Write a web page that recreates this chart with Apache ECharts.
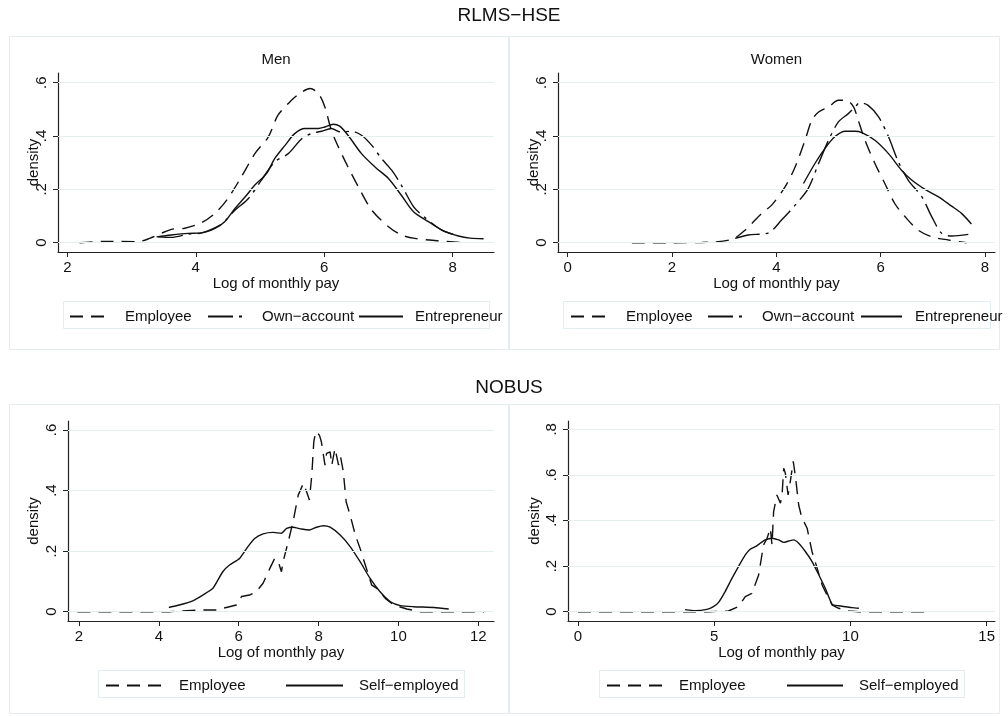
<!DOCTYPE html>
<html>
<head>
<meta charset="utf-8">
<script src="https://cdn.jsdelivr.net/npm/echarts@6/dist/echarts.min.js"></script>
<style>
  html, body { margin: 0; padding: 0; background: #fff; }
  #container { width: 1008px; height: 716px; }
</style>
</head>
<body>
<div id="container"></div>
<script>
var dom = document.getElementById("container");
var myChart = echarts.init(dom);

var fontFam = 'Liberation Sans, Arial, Helvetica, sans-serif';

// RLMS-HSE, men
var menEmpX = [2.19, 2.58, 3.1, 3.28, 3.62, 3.83, 4.09, 4.3, 4.5, 4.71, 4.92, 5.13, 5.28, 5.49, 5.65, 5.78, 5.91, 6.01, 6.11, 6.22, 6.37, 6.53, 6.74, 7.0, 7.2, 7.41, 7.78, 8.19];
var menEmpY = [0, 0.005, 0.004, 0.016, 0.05, 0.054, 0.075, 0.11, 0.166, 0.247, 0.334, 0.397, 0.478, 0.534, 0.565, 0.578, 0.559, 0.509, 0.422, 0.359, 0.284, 0.21, 0.122, 0.06, 0.029, 0.016, 0.007, 0];
var menOwnX = [3.41, 3.62, 3.88, 4.09, 4.4, 4.61, 4.82, 5.02, 5.23, 5.44, 5.65, 5.8, 5.96, 6.11, 6.26, 6.42, 6.58, 6.74, 6.89, 7.05, 7.2, 7.39, 7.52, 7.83, 8.09];
var menOwnY = [0.022, 0.02, 0.032, 0.037, 0.07, 0.122, 0.166, 0.234, 0.303, 0.334, 0.39, 0.409, 0.418, 0.428, 0.415, 0.418, 0.403, 0.365, 0.316, 0.272, 0.216, 0.135, 0.104, 0.047, 0.026];
var menEntX = [3.39, 3.62, 3.88, 4.09, 4.3, 4.45, 4.61, 4.79, 4.92, 5.1, 5.23, 5.39, 5.54, 5.7, 5.91, 6.01, 6.14, 6.24, 6.37, 6.58, 6.79, 7.0, 7.2, 7.39, 7.62, 7.85, 8.09, 8.27, 8.48];
var menEntY = [0.022, 0.029, 0.035, 0.037, 0.054, 0.079, 0.128, 0.178, 0.216, 0.259, 0.316, 0.365, 0.409, 0.428, 0.428, 0.434, 0.444, 0.437, 0.403, 0.334, 0.284, 0.241, 0.178, 0.116, 0.079, 0.045, 0.025, 0.017, 0.015];

// RLMS-HSE, women
var womEmpX = [1.23, 1.99, 2.57, 3.14, 3.4, 3.72, 3.91, 4.17, 4.36, 4.55, 4.68, 4.81, 5.0, 5.19, 5.35, 5.48, 5.57, 5.7, 5.89, 6.08, 6.27, 6.47, 6.72, 6.98, 7.3, 7.65];
var womEmpY = [0, 0, 0.001, 0.012, 0.047, 0.11, 0.141, 0.21, 0.284, 0.384, 0.459, 0.49, 0.509, 0.534, 0.534, 0.509, 0.459, 0.384, 0.297, 0.222, 0.147, 0.097, 0.047, 0.022, 0.01, 0];
var womOwnX = [3.21, 3.46, 3.85, 4.1, 4.36, 4.61, 4.81, 5.0, 5.19, 5.38, 5.51, 5.6, 5.76, 5.96, 6.15, 6.34, 6.53, 6.79, 6.98, 7.17, 7.36, 7.68];
var womOwnY = [0.016, 0.029, 0.037, 0.085, 0.141, 0.203, 0.297, 0.384, 0.453, 0.484, 0.509, 0.525, 0.515, 0.472, 0.397, 0.303, 0.234, 0.172, 0.097, 0.035, 0.025, 0.031];
var womEntX = [4.52, 4.74, 4.93, 5.12, 5.32, 5.51, 5.64, 5.89, 6.15, 6.4, 6.6, 6.85, 7.11, 7.36, 7.55, 7.74];
var womEntY = [0.222, 0.297, 0.353, 0.397, 0.418, 0.418, 0.413, 0.384, 0.334, 0.272, 0.234, 0.2, 0.172, 0.137, 0.11, 0.07];

// NOBUS, men
var nbMenEmpX = [1.96, 4.26, 5.02, 5.44, 5.69, 5.94, 6.07, 6.27, 6.44, 6.61, 6.78, 6.9, 6.99, 7.07, 7.11, 7.24, 7.36, 7.49, 7.62, 7.7, 7.77, 7.83, 7.88, 7.93, 8.02, 8.07, 8.16, 8.2, 8.29, 8.33, 8.41, 8.5, 8.55, 8.62, 8.69, 8.79, 8.92, 9.04, 9.17, 9.33, 9.46, 9.67, 9.88, 10.21, 10.55, 12.14];
var nbMenEmpY = [0, 0, 0.0055, 0.0055, 0.014, 0.022, 0.05, 0.055, 0.066, 0.094, 0.143, 0.176, 0.165, 0.132, 0.165, 0.231, 0.297, 0.385, 0.424, 0.396, 0.369, 0.451, 0.561, 0.595, 0.583, 0.561, 0.484, 0.523, 0.528, 0.484, 0.539, 0.484, 0.512, 0.462, 0.363, 0.319, 0.253, 0.209, 0.154, 0.088, 0.077, 0.044, 0.022, 0.009, 0, 0];
var nbMenSelfX = [4.25, 4.51, 4.85, 5.1, 5.35, 5.6, 5.77, 6.02, 6.23, 6.4, 6.61, 6.86, 7.07, 7.2, 7.36, 7.57, 7.78, 7.95, 8.12, 8.29, 8.54, 8.79, 9.04, 9.29, 9.54, 9.8, 10.05, 10.38, 10.89, 11.26];
var nbMenSelfY = [0.014, 0.022, 0.036, 0.055, 0.077, 0.132, 0.154, 0.176, 0.215, 0.242, 0.257, 0.262, 0.259, 0.275, 0.279, 0.273, 0.27, 0.279, 0.284, 0.279, 0.253, 0.215, 0.165, 0.11, 0.066, 0.033, 0.02, 0.0165, 0.014, 0.009];

// NOBUS, women
var nbWomEmpX = [0, 4.79, 5.52, 5.89, 6.14, 6.38, 6.63, 6.81, 6.94, 7.06, 7.12, 7.18, 7.3, 7.43, 7.49, 7.55, 7.61, 7.71, 7.81, 7.9, 7.98, 8.04, 8.1, 8.19, 8.29, 8.41, 8.59, 8.78, 8.96, 9.14, 9.33, 9.57, 9.94, 10.31, 12.95];
var nbWomEmpY = [0, 0, 0.003, 0.022, 0.066, 0.08, 0.161, 0.293, 0.322, 0.366, 0.293, 0.439, 0.512, 0.476, 0.512, 0.629, 0.607, 0.512, 0.585, 0.659, 0.593, 0.6, 0.468, 0.424, 0.395, 0.366, 0.263, 0.19, 0.117, 0.073, 0.029, 0.015, 0.003, 0, 0];
var nbWomSelfX = [3.93, 4.3, 4.73, 4.97, 5.16, 5.4, 5.65, 5.89, 6.14, 6.32, 6.51, 6.69, 6.87, 7.12, 7.36, 7.55, 7.73, 7.92, 8.1, 8.35, 8.59, 8.84, 9.08, 9.33, 9.57, 9.82, 10.06, 10.31];
var nbWomSelfY = [0.009, 0.004, 0.01, 0.022, 0.041, 0.088, 0.146, 0.198, 0.249, 0.274, 0.285, 0.3, 0.315, 0.322, 0.315, 0.304, 0.31, 0.315, 0.3, 0.263, 0.22, 0.161, 0.102, 0.032, 0.026, 0.022, 0.018, 0.015];

// tick labels
var xTicksTopL = [2, 4, 6, 8];
var xTicksTopR = [0, 2, 4, 6, 8];
var xTicksBotL = [2, 4, 6, 8, 10, 12];
var xTicksBotR = [0, 5, 10, 15];
var yTicksTop = [0, 0.2, 0.4, 0.6];
var yTicksBotL = [0, 0.2, 0.4, 0.6];
var yTicksBotR = [0, 0.2, 0.4, 0.6, 0.8];

var gridColor = '#e6eff0';
var boxColor = '#e3ecee';
var ink = '#111';

function zip(xs, ys) {
    var out = [];
    for (var i = 0; i < xs.length; i++) out.push([xs[i], ys[i]]);
    return out;
}

function yLabel(v) {
    if (v === 0) return '0';
    return String(+v.toFixed(2)).replace(/^0\./, '.');
}

function makeX(idx, min, max, ticks) {
    return {
        type: 'value', gridIndex: idx, min: min, max: max,
        name: 'Log of monthly pay', nameLocation: 'middle', nameGap: 24,
        nameMoveOverlap: false,
        nameTextStyle: { fontSize: 15, color: ink, fontFamily: fontFam },
        axisLine: { onZero: false, lineStyle: { color: '#222', width: 1.2 } },
        axisTick: { show: true, length: 5, customValues: ticks, lineStyle: { color: '#222' } },
        axisLabel: { customValues: ticks, margin: 8, fontSize: 15, color: ink, fontFamily: fontFam },
        splitLine: { show: false }
    };
}

function makeY(idx, min, max, ticks, gap) {
    return {
        type: 'value', gridIndex: idx, min: min, max: max,
        name: 'density', nameLocation: 'middle', nameGap: gap,
        nameMoveOverlap: false,
        nameTextStyle: { fontSize: 15, color: ink, fontFamily: fontFam },
        axisLine: { onZero: false, lineStyle: { color: '#222', width: 1.2 } },
        axisTick: { show: true, length: 5, customValues: ticks, lineStyle: { color: '#222' } },
        axisLabel: {
            customValues: ticks, rotate: 90, margin: 9, fontSize: 15, color: ink, fontFamily: fontFam,
            formatter: yLabel
        },
        splitLine: { show: false }
    };
}

function gridLines(idx, ticks) {
    return {
        name: 'grid' + idx, type: 'line', xAxisIndex: idx, yAxisIndex: idx, data: [], z: 1,
        markLine: {
            silent: true, symbol: 'none', animation: false,
            label: { show: false },
            lineStyle: { color: gridColor, type: 'solid', width: 1.2 },
            data: ticks.map(function (v) { return { yAxis: v }; })
        }
    };
}

function curve(name, idx, xs, ys, dash, smooth) {
    return {
        name: name, type: 'line', xAxisIndex: idx, yAxisIndex: idx,
        data: zip(xs, ys), z: 3,
        symbol: 'none', showSymbol: false, smooth: smooth, animation: false,
        itemStyle: { color: ink },
        lineStyle: { color: ink, width: 1.4, type: dash }
    };
}

function legendItem(name, left, top, width, pad) {
    return {
        data: [name], left: left, top: top, padding: 0, orient: 'horizontal',
        itemWidth: width, itemHeight: 12, selectedMode: false,
        itemStyle: { opacity: 0, borderWidth: 0 },
        formatter: function (n) { return n.replace(/ #\d+$/, ''); },
        textStyle: { fontSize: 15, color: ink, fontFamily: fontFam, padding: [0, 0, 0, pad] }
    };
}

function box(x, y, w, h) {
    return {
        type: 'rect', silent: true, z: -1,
        shape: { x: x, y: y, width: w, height: h },
        style: { fill: 'none', stroke: boxColor, lineWidth: 1 }
    };
}

var dashEmp = [13, 8];
var dashOwn = [25, 6, 3, 6];

var option = {
    backgroundColor: '#fff',
    animation: false,
    title: [
        { text: 'RLMS\u2212HSE', left: 509, top: 6, textAlign: 'center', padding: 0,
          textStyle: { fontSize: 19, fontWeight: 'normal', color: ink, fontFamily: fontFam } },
        { text: 'NOBUS', left: 509, top: 378, textAlign: 'center', padding: 0,
          textStyle: { fontSize: 19, fontWeight: 'normal', color: ink, fontFamily: fontFam } },
        { text: 'Men', left: 276, top: 52, textAlign: 'center', padding: 0,
          textStyle: { fontSize: 15, fontWeight: 'normal', color: ink, fontFamily: fontFam } },
        { text: 'Women', left: 776.5, top: 52, textAlign: 'center', padding: 0,
          textStyle: { fontSize: 15, fontWeight: 'normal', color: ink, fontFamily: fontFam } }
    ],
    grid: [
        { left: 58, top: 73, width: 436, height: 179 },
        { left: 558, top: 73, width: 437, height: 179 },
        { left: 68, top: 421, width: 426, height: 200 },
        { left: 568, top: 421, width: 427, height: 200 }
    ],
    xAxis: [
        makeX(0, 1.855, 8.643, xTicksTopL),
        makeX(1, -0.186, 8.192, xTicksTopR),
        makeX(2, 1.7245, 12.393, xTicksBotL),
        makeX(3, -0.367, 15.305, xTicksBotR)
    ],
    yAxis: [
        makeY(0, -0.0349, 0.6364, yTicksTop, 17),
        makeY(1, -0.0349, 0.6364, yTicksTop, 17),
        makeY(2, -0.0307, 0.6297, yTicksBotL, 27),
        makeY(3, -0.0408, 0.8364, yTicksBotR, 26)
    ],
    legend: [
        legendItem('Employee #1', 69, 309, 38, 12),
        legendItem('Own\u2212account #1', 207, 309, 38, 11),
        legendItem('Entrepreneur #1', 358, 309, 44, 7),
        legendItem('Employee #2', 570, 309, 38, 12),
        legendItem('Own\u2212account #2', 707, 309, 38, 11),
        legendItem('Entrepreneur #2', 860, 309, 41, 8),
        legendItem('Employee #3', 105, 678, 57, 11),
        legendItem('Self\u2212employed #3', 285, 678, 57, 11),
        legendItem('Employee #4', 606, 678, 56, 11),
        legendItem('Self\u2212employed #4', 786, 678, 56, 11)
    ],
    graphic: [
        box(9.5, 36.5, 499, 313),
        box(509.5, 36.5, 490, 313),
        box(9.5, 404.5, 499, 309),
        box(509.5, 404.5, 490, 309),
        box(63.5, 301.5, 426, 27),
        box(563.5, 301.5, 427, 27),
        box(98.5, 670.5, 366, 27),
        box(599.5, 670.5, 365, 27)
    ],
    series: [
        gridLines(0, yTicksTop),
        gridLines(1, yTicksTop),
        gridLines(2, yTicksBotL),
        gridLines(3, yTicksBotR),
        curve('Employee #1', 0, menEmpX, menEmpY, dashEmp, 0.3),
        curve('Own\u2212account #1', 0, menOwnX, menOwnY, dashOwn, 0.3),
        curve('Entrepreneur #1', 0, menEntX, menEntY, 'solid', 0.3),
        curve('Employee #2', 1, womEmpX, womEmpY, dashEmp, 0.3),
        curve('Own\u2212account #2', 1, womOwnX, womOwnY, dashOwn, 0.3),
        curve('Entrepreneur #2', 1, womEntX, womEntY, 'solid', 0.3),
        curve('Employee #3', 2, nbMenEmpX, nbMenEmpY, dashEmp, false),
        curve('Self\u2212employed #3', 2, nbMenSelfX, nbMenSelfY, 'solid', 0.2),
        curve('Employee #4', 3, nbWomEmpX, nbWomEmpY, dashEmp, false),
        curve('Self\u2212employed #4', 3, nbWomSelfX, nbWomSelfY, 'solid', 0.2)
    ]
};

myChart.setOption(option);
</script>
</body>
</html>
